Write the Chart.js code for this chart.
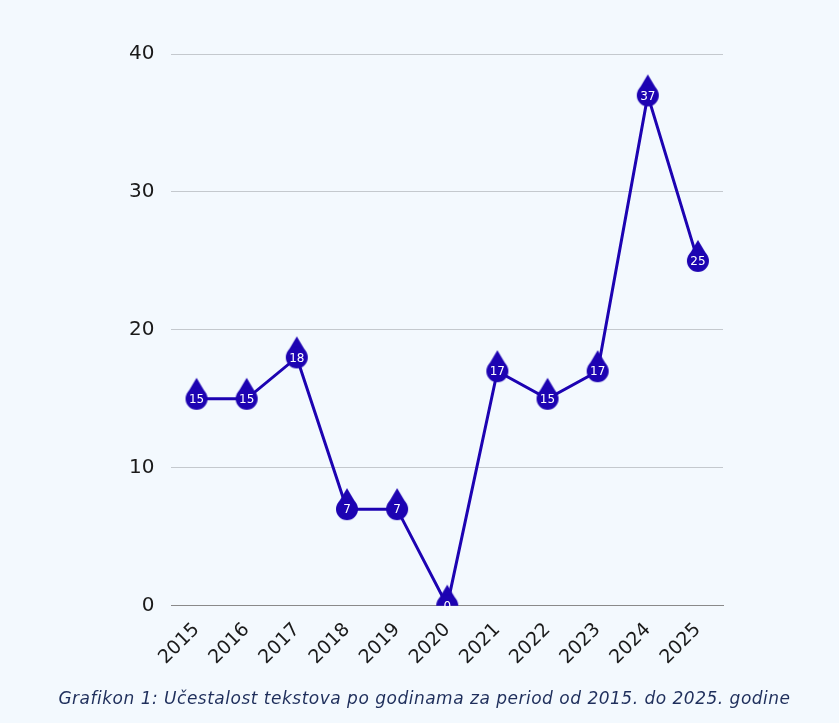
<!DOCTYPE html>
<html>
<head>
<meta charset="utf-8">
<script src="https://cdn.jsdelivr.net/npm/chart.js@4"></script>
<style>
  html, body { margin: 0; padding: 0; background: #f3f9fe; }
  #wrap { width: 839px; height: 723px; position: relative; }
  #opis {
    position: absolute; left: 0; width: 849px; top: 688px;
    text-align: center; color: #1f2f5c;
    font: italic 17px "DejaVu Sans", "Noto Sans", sans-serif;
    letter-spacing: 0.5px; white-space: nowrap;
  }
</style>
</head>
<body>
<div id="wrap">
  <canvas id="godineChart"></canvas>
  <div id="opis">Grafikon 1: Učestalost tekstova po godinama za period od 2015. do 2025. godine</div>
</div>
<script>
const godine = ['2015', '2016', '2017', '2018', '2019', '2020', '2021', '2022', '2023', '2024', '2025']
const brojTekstova = [15, 15, 18, 7, 7, 0, 17, 15, 17, 37, 25]
const yTicks = [0, 10, 20, 30, 40]
const boja = '#1d03b2'
const fontFam = '"DejaVu Sans", "Noto Sans", sans-serif'

// kapljica: krug + trokut iznad, centar kruga u sredini slike
function kapljica() {
    const c = document.createElement('canvas')
    c.width = 24; c.height = 44
    const x = c.getContext('2d')
    x.fillStyle = boja
    x.beginPath()
    x.moveTo(12, 1)
    x.lineTo(21.5, 17)
    x.lineTo(2.5, 17)
    x.closePath()
    x.fill()
    x.beginPath()
    x.arc(12, 22, 11, 0, Math.PI * 2)
    x.fill()
    return c
}
const marker = kapljica()

const oznake = {
    id: 'oznake',
    afterDatasetsDraw(chart) {
        const ctx = chart.ctx
        const meta = chart.getDatasetMeta(0)
        ctx.save()
        ctx.fillStyle = '#ffffff'
        ctx.font = '12px ' + fontFam
        ctx.textAlign = 'center'
        ctx.textBaseline = 'middle'
        meta.data.forEach((p, i) => {
            ctx.fillText(String(brojTekstova[i]), p.x, p.y + 1)
        })
        ctx.restore()
    }
}

const ctx = document.getElementById('godineChart').getContext('2d')
const godineChart = new Chart(ctx, {
    type: 'line',
    data: {
        labels: godine,
        datasets: [{
            data: brojTekstova,
            borderColor: boja,
            borderWidth: 3,
            pointStyle: marker,
            pointRadius: 11,
            pointHoverRadius: 11,
            tension: 0
        }]
    },
    options: {
        responsive: true,
        maintainAspectRatio: false,
        animation: false,
        layout: {padding: {left: 112, right: 116, top: 54, bottom: 41}},
        plugins: {
            legend: {display: false},
            tooltip: {enabled: false}
        },
        scales: {
            x: {
                offset: true,
                grid: {display: false, drawTicks: false},
                border: {display: true, color: '#8a8a8a', width: 1},
                ticks: {
                    color: '#1a1a1a',
                    font: {family: fontFam, size: 19},
                    maxRotation: 45, minRotation: 45,
                    padding: 13
                }
            },
            y: {
                min: 0, max: 40,
                afterBuildTicks: (ax) => { ax.ticks = yTicks.map(v => ({value: v})) },
                grid: {color: '#c4c9ce', drawTicks: false, lineWidth: 1},
                border: {display: false},
                ticks: {
                    color: '#1a1a1a',
                    font: {family: fontFam, size: 20},
                    padding: 17
                }
            }
        }
    },
    plugins: [oznake]
})
</script>
</body>
</html>
